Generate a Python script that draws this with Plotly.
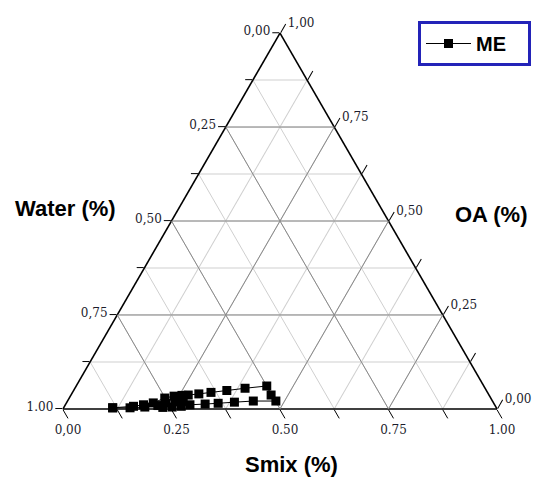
import plotly.graph_objects as go

# ---- data (fractions) ----
oa    = [0.003, 0.007, 0.011, 0.016, 0.029, 0.034, 0.036, 0.037, 0.040, 0.044, 0.049, 0.055, 0.061,
         0.037, 0.021, 0.021, 0.018, 0.015, 0.013, 0.011, 0.020, 0.007, 0.019, 0.005, 0.015, 0.004,
         0.009, 0.005, 0.003, 0.003]
smix  = [0.113, 0.159, 0.180, 0.200, 0.220, 0.239, 0.256, 0.270, 0.293, 0.319, 0.353, 0.392, 0.439,
         0.461, 0.480, 0.428, 0.386, 0.350, 0.321, 0.287, 0.267, 0.269, 0.249, 0.249, 0.230, 0.228,
         0.214, 0.186, 0.153, 0.113]
water = [0.884, 0.834, 0.809, 0.784, 0.751, 0.727, 0.708, 0.693, 0.667, 0.637, 0.598, 0.553, 0.500,
         0.502, 0.499, 0.551, 0.596, 0.635, 0.666, 0.702, 0.713, 0.724, 0.732, 0.746, 0.755, 0.768,
         0.777, 0.809, 0.844, 0.884]

tick_vals = [0, 0.125, 0.25, 0.375, 0.5, 0.625, 0.75, 0.875, 1]
major_vals = [0.25, 0.5, 0.75]
# labels (edge value = 1 - plotly axis value)
water_labels = ["1.00", "", "0,75", "", "0,50", "", "0,25", "", "0,00"]   # left edge
smix_labels  = ["1.00", "", "0.75", "", "0.50", "", "0.25", "", "0,00"]   # bottom edge
oa_labels    = ["1,00", "", "0,75", "", "0,50", "", "0,25", "", "0,00"]   # right edge

fig = go.Figure()

# darker major grid lines drawn over the light axis grid
ga, gb, gc = [], [], []
for t in major_vals:
    for seg in ([t, 1 - t, 0], [t, 0, 1 - t]), ([1 - t, t, 0], [0, t, 1 - t]), ([1 - t, 0, t], [0, 1 - t, t]):
        for p in seg:
            ga.append(p[0]); gb.append(p[1]); gc.append(p[2])
        ga.append(None); gb.append(None); gc.append(None)
fig.add_trace(go.Scatterternary(a=ga, b=gb, c=gc, mode="lines",
                                line=dict(color="#8a8a8a", width=1),
                                hoverinfo="skip", showlegend=False))

fig.add_trace(go.Scatterternary(
    a=oa, b=water, c=smix, mode="lines+markers", name="ME&nbsp;&nbsp;&nbsp;",
    line=dict(color="black", width=1),
    marker=dict(symbol="square", size=9, color="black"),
    cliponaxis=False,
))

def axis(labels, ticklen):
    return dict(
        tickmode="array", tickvals=tick_vals, ticktext=labels,
        ticks="outside", ticklen=ticklen, tickwidth=1.2, tickcolor="black",
        showline=True, linecolor="black", linewidth=1.6,
        showgrid=True, gridcolor="#cfcfcf", gridwidth=1,
        tickfont=dict(family="DejaVu Serif", size=12, color="#1c1c2c"),
        title=dict(text=""), layer="below traces",
    )

title_font = dict(family="Liberation Sans", size=22, color="black")

fig.update_layout(
    width=541, height=478,
    margin=dict(l=0, r=0, t=0, b=0, autoexpand=False),
    paper_bgcolor="white",
    ternary=dict(
        sum=1,
        bgcolor="white",
        domain=dict(x=[63 / 541, 497 / 541], y=[1 - 410 / 478, 1 - 32 / 478]),
        aaxis=axis(water_labels, 7),
        baxis=axis(smix_labels, 10),
        caxis=axis(oa_labels, 10),
    ),
    showlegend=True,
    legend=dict(
        x=418 / 541, y=1 - 21 / 478, xanchor="left", yanchor="top",
        itemwidth=45,
        bordercolor="#2323b8", borderwidth=3, bgcolor="white",
        font=dict(family="Liberation Sans", size=20, color="black", weight="bold"),
    ),
    annotations=[
        dict(text="<b>Water (%)</b>", x=65 / 541, y=1 - 208 / 478, xref="paper", yref="paper",
             xanchor="center", yanchor="middle", showarrow=False, font=title_font),
        dict(text="<b>OA (%)</b>", x=491 / 541, y=1 - 214 / 478, xref="paper", yref="paper",
             xanchor="center", yanchor="middle", showarrow=False, font=title_font),
        dict(text="<b>Smix (%)</b>", x=291 / 541, y=1 - 464 / 478, xref="paper", yref="paper",
             xanchor="center", yanchor="middle", showarrow=False, font=title_font),
    ],
)

fig.write_html("out.html", config={"displayModeBar": False},
               post_script="document.body.style.margin='0px';")
